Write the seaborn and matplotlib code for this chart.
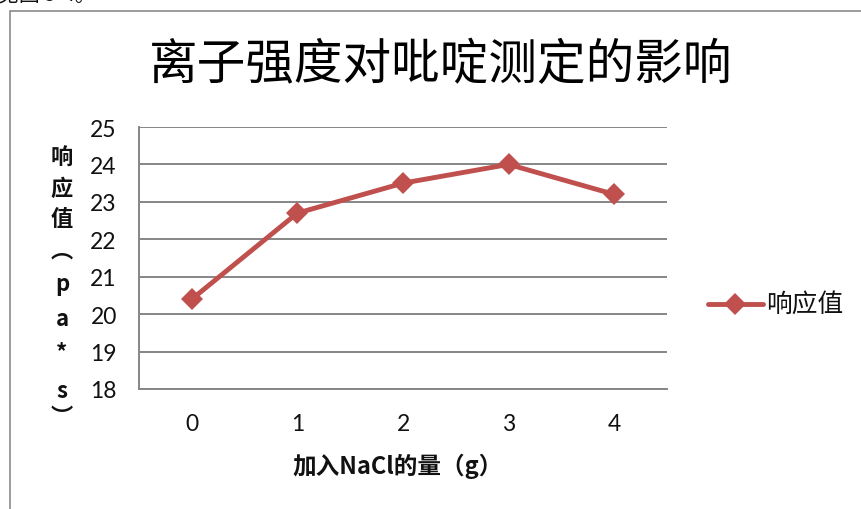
import matplotlib
matplotlib.use("Agg")
import matplotlib.pyplot as plt
from matplotlib.patches import Rectangle
from matplotlib.lines import Line2D
import pandas as pd
import seaborn as sns

# Data: NaCl added (g) vs. response value (pa*s)
nacl_g = [0, 1, 2, 3, 4]
response = [20.4, 22.7, 23.5, 24.0, 23.2]
series_name = "响应值"
title = "离子强度对吡啶测定的影响"
xlabel = "加入NaCl的量（g）"
ylabel_chars = ["响", "应", "值", "︵", "p", "a", "*", "s", "︶"]
y_ticks = [18, 19, 20, 21, 22, 23, 24, 25]

sns.set_theme(style="white")
plt.rcParams["font.family"] = ["Noto Sans CJK SC", "DejaVu Sans"]

W, H = 861, 510
LINE_COLOR = "#C0504D"
fig = plt.figure(figsize=(W / 100, H / 100), dpi=100)
ax = fig.add_axes([139 / W, 1 - 390 / H, (667 - 139) / W, (390 - 128) / H])

df = pd.DataFrame({"x": nacl_g, "y": response, "series": series_name})
sns.lineplot(data=df, x="x", y="y", hue="series", palette=[LINE_COLOR],
             marker="D", markersize=11.5, markeredgewidth=0, linewidth=3.5,
             ax=ax, legend=False)

ax.set_xlim(-0.5, 4.5)
ax.set_ylim(18, 25)
ax.set_yticks(y_ticks)
ax.set_xticks(nacl_g)
ax.set_xticklabels([str(v) for v in nacl_g])
ax.set_yticklabels([str(v) for v in y_ticks])
for lab in ax.get_xticklabels() + ax.get_yticklabels():
    lab.set_family(["Lato", "DejaVu Sans"])
    lab.set_fontsize(16.5)
    lab.set_color("#111111")
ax.tick_params(axis="x", length=0, pad=17)
ax.tick_params(axis="y", length=0, pad=16)
ax.yaxis.grid(True, color="#868686", linewidth=1.4)
ax.xaxis.grid(False)
for side in ["top", "right"]:
    ax.spines[side].set_visible(False)
for side in ["left", "bottom"]:
    ax.spines[side].set_color("#868686")
    ax.spines[side].set_linewidth(1.4)
ax.set_xlabel("")
ax.set_ylabel("")

# Chart title
fig.text(441 / W, 1 - 65 / H, title, ha="center", va="center",
         fontsize=35, color="#000000")

# Axis titles
fig.text(398 / W, 1 - 466 / H, xlabel, ha="center", va="center",
         fontsize=17, fontweight="bold", color="#111111")
ys = [158, 189, 219, 251, 285, 320, 353, 391, 418]
for ch, yy in zip(ylabel_chars, ys):
    fig.text(62 / W, 1 - yy / H, ch, ha="center", va="center",
             fontsize=16, fontweight="bold", color="#111111")

# Legend entry: line sample with a diamond, then the series name
ly = 1 - 305 / H
fig.add_artist(Line2D([708 / W, 763 / W], [ly, ly], transform=fig.transFigure,
                      color=LINE_COLOR, linewidth=3.5, solid_capstyle="round"))
fig.add_artist(Line2D([735 / W], [ly], transform=fig.transFigure,
                      color=LINE_COLOR, marker="D", markersize=11,
                      markeredgewidth=0, linestyle="none"))
fig.text(766 / W, ly, series_name, ha="left", va="center",
         fontsize=18.5, color="#111111")

# Chart frame and the caption line above it
fig.patches.append(Rectangle((10 / W, -0.05), 1.05, 1 - 12 / H + 0.05,
                             transform=fig.transFigure, fill=False,
                             edgecolor="#8a8a8a", linewidth=1.2))
fig.text(-2 / W, 1 - 6 / H, "见图 5-4。", ha="left", va="bottom",
         fontsize=15, color="#111111")

fig.savefig("out.png", dpi=100)
